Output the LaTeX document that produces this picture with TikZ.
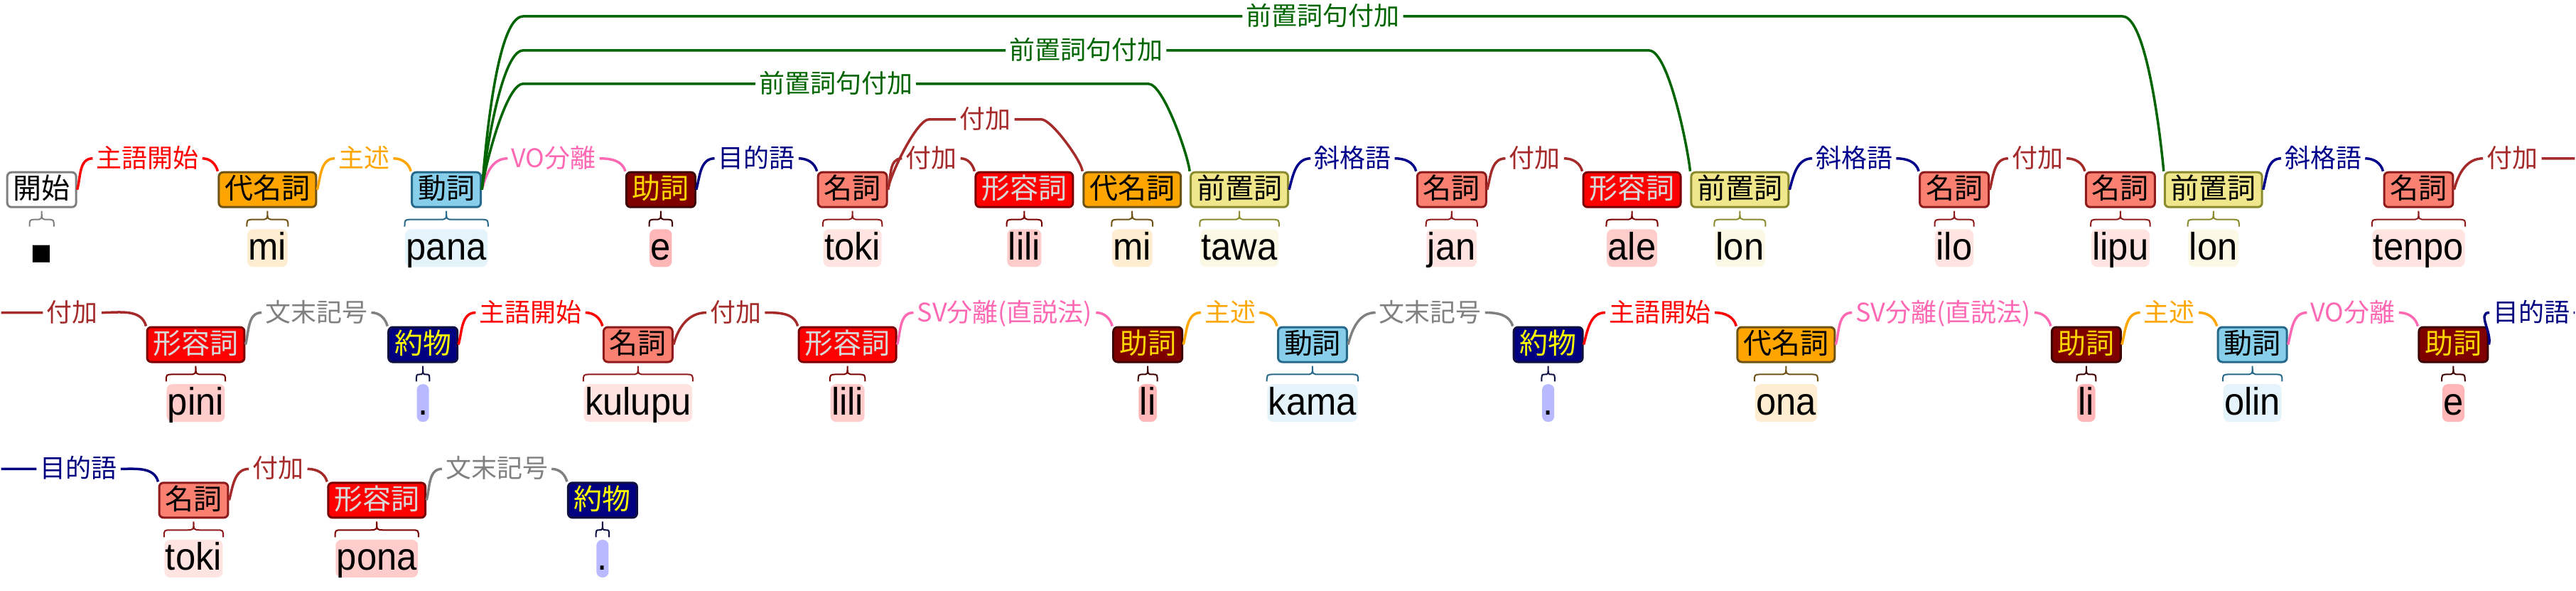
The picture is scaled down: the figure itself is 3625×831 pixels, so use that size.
\documentclass[tikz,border=0pt]{standalone}
\usepackage{fontspec}
\setmainfont{Liberation Sans}
\newfontfamily\jpfont{Noto Sans CJK JP}
\newfontfamily\wordfont{Liberation Sans}[FakeStretch=0.94]
\newfontfamily\symfont{DejaVu Sans}
\usetikzlibrary{calc}

\tikzset{
  posbox/.style={rounded corners=0.06cm,line width=0.03cm,inner xsep=0.085cm,inner ysep=0pt,
    minimum height=0.49cm,text height=0.32cm,text depth=0.06cm,
    font=\jpfont\fontsize{11.38}{12}\selectfont},
  word/.style={anchor=north,inner xsep=0.015cm,inner ysep=0pt,rounded corners=0.08cm,
    text height=0.43cm,text depth=0.10cm,font=\wordfont\fontsize{15.37}{16}\selectfont},
  lab/.style={inner xsep=0.045cm,inner ysep=0pt,text height=0.29cm,text depth=0.04cm,
    font=\jpfont\fontsize{10.24}{11}\selectfont},
  link/.style={line width=0.035cm},
}

\newcommand\wbrace[2]{%
  \draw[#2,line width=0.02cm] let \p1=(#1.north west), \p2=(#1.north east),
    \n1={min(2.85,(\x2-\x1)/4)}, \n2={(\x1+\x2)/2} in
    (\x1,\y1+0.85pt) .. controls (\x1,\y1+3.7pt) .. ({\x1+\n1+0pt},\y1+3.7pt)
    -- ({\n2-\n1+0pt},\y1+3.7pt) .. controls ({\n2+0pt},\y1+3.7pt) .. ({\n2+0pt},\y1+7.1pt)
    .. controls ({\n2+0pt},\y1+3.7pt) .. ({\n2+\n1+0pt},\y1+3.7pt)
    -- ({\x2-\n1+0pt},\y1+3.7pt) .. controls (\x2,\y1+3.7pt) .. (\x2,\y1+0.85pt);}

\begin{document}
\begin{tikzpicture}[x=0.01cm,y=-0.01cm]
  \definecolor{fstart}{HTML}{FFFFFF}\definecolor{lstart}{HTML}{7F7F7F}\definecolor{tstart}{HTML}{000000}
  \definecolor{fpron}{HTML}{FFA500}\definecolor{lpron}{HTML}{6E5216}\definecolor{tpron}{HTML}{000000}\definecolor{wpron}{HTML}{FEEDD0}
  \definecolor{fverb}{HTML}{87CEEB}\definecolor{lverb}{HTML}{27698A}\definecolor{tverb}{HTML}{000000}\definecolor{wverb}{HTML}{E5F3FA}
  \definecolor{fpart}{HTML}{800000}\definecolor{lpart}{HTML}{3D0000}\definecolor{tpart}{HTML}{FFD700}\definecolor{wpart}{HTML}{FFB6B6}
  \definecolor{fnoun}{HTML}{FA8072}\definecolor{lnoun}{HTML}{8E1B1B}\definecolor{tnoun}{HTML}{000000}\definecolor{wnoun}{HTML}{FFE4E1}
  \definecolor{fadj}{HTML}{FF0000}\definecolor{ladj}{HTML}{7A0000}\definecolor{tadj}{HTML}{D8D8D8}\definecolor{wadj}{HTML}{FFCCCC}
  \definecolor{fprep}{HTML}{F0E68C}\definecolor{lprep}{HTML}{8A8A2E}\definecolor{tprep}{HTML}{000000}\definecolor{wprep}{HTML}{FBF8E6}
  \definecolor{fpunct}{HTML}{000080}\definecolor{lpunct}{HTML}{101040}\definecolor{tpunct}{HTML}{FFFF00}\definecolor{wpunct}{HTML}{B9B9FF}
  \definecolor{subj}{HTML}{FF0000}
  \definecolor{pred}{HTML}{FFA500}
  \definecolor{split}{HTML}{FF69B4}
  \definecolor{obj}{HTML}{000080}
  \definecolor{adjunct}{HTML}{A52A2A}
  \definecolor{ppadj}{HTML}{006400}
  \definecolor{obl}{HTML}{00008B}
  \definecolor{endmark}{HTML}{808080}

  \node[posbox,fill=fstart,draw=lstart,text=tstart] (n1) at (57,267) {開始};
  \node[word,minimum width=0.32cm,font=\symfont\fontsize{9}{10}\selectfont] (wn1) at (57,322) {■};
  \wbrace{wn1}{lstart}
  \foreach \nm/\xx/\yy/\kind/\pos/\w in {
      n2/375/267/pron/代名詞/mi, n3/627/267/verb/動詞/pana, n4/929/267/part/助詞/e,
      n5/1199/267/noun/名詞/toki, n6/1441/267/adj/形容詞/lili, n7/1593/267/pron/代名詞/mi,
      n8/1744/267/prep/前置詞/tawa, n9/2043/267/noun/名詞/jan, n10/2297/267/adj/形容詞/ale,
      n11/2449/267/prep/前置詞/lon, n12/2751/267/noun/名詞/ilo, n13/2985/267/noun/名詞/lipu,
      n14/3116/267/prep/前置詞/lon, n15/3405/267/noun/名詞/tenpo,
      n16/274/485/adj/形容詞/pini, n17/594/485/punct/約物/., n18/897/485/noun/名詞/kulupu,
      n19/1192/485/adj/形容詞/lili, n20/1615/485/part/助詞/li, n21/1847/485/verb/動詞/kama,
      n22/2179/485/punct/約物/., n23/2514/485/pron/代名詞/ona, n24/2937/485/part/助詞/li,
      n25/3171/485/verb/動詞/olin, n26/3454/485/part/助詞/e,
      n27/271/704/noun/名詞/toki, n28/529/704/adj/形容詞/pona, n29/847/704/punct/約物/.}{
    \node[posbox,fill=f\kind,draw=l\kind,text=t\kind] (\nm) at (\xx,\yy) {\pos};
    \node[word,fill=w\kind] (w\nm) at (\xx,\yy+55) {\w};
    \wbrace{w\nm}{l\kind}
  }

  \foreach \src/\tgt/\txt/\col/\lev in {
      n1/n2/主語開始/subj/223, n2/n3/主述/pred/223, n3/n4/VO分離/split/223,
      n4/n5/目的語/obj/223, n5/n6/付加/adjunct/223, n8/n9/斜格語/obl/223,
      n9/n10/付加/adjunct/223, n11/n12/斜格語/obl/223, n12/n13/付加/adjunct/223,
      n14/n15/斜格語/obl/223,
      n16/n17/文末記号/endmark/440, n17/n18/主語開始/subj/440, n18/n19/付加/adjunct/440,
      n19/n20/SV分離(直説法)/split/440, n20/n21/主述/pred/440, n21/n22/文末記号/endmark/440,
      n22/n23/主語開始/subj/440, n23/n24/SV分離(直説法)/split/440, n24/n25/主述/pred/440,
      n25/n26/VO分離/split/440,
      n27/n28/付加/adjunct/660, n28/n29/文末記号/endmark/660}{
    \path let \p1=(\src.east), \p2=(\tgt.north west), \p3=(0,\lev) in
      node[lab,text=\col] (l\src\tgt) at ({(\x1+\x2)/2},\y3) {\txt};
    \draw[link,\col] (\src.east) to[out=75,in=180] (l\src\tgt.west)
      (l\src\tgt.east) to[out=0,in=105] (\tgt.north west);
  }

  \foreach \src/\tgt/\txt/\col/\lev in {
      n5/n7/付加/adjunct/168, n3/n8/前置詞句付加/ppadj/118,
      n3/n11/前置詞句付加/ppadj/71, n3/n14/前置詞句付加/ppadj/23}{
    \path let \p1=(\src.east), \p2=(\tgt.north west), \p3=(0,\lev) in
      node[lab,text=\col] (l\src\tgt) at ({(\x1+\x2)/2},\y3) {\txt};
    \draw[link,\col] let \p1=(\src.east), \p2=(\tgt.north west), \p3=(0,\lev) in
      (\src.east) to[out=85,in=180,looseness=0.4] (\x1+0.58cm,\y3) -- (l\src\tgt.west)
      (l\src\tgt.east) -- (\x2-0.58cm,\y3) to[out=0,in=95,looseness=0.4] (\tgt.north west);
  }

  \coordinate (r1out) at (3625,223);
  \coordinate (r2in) at (0,440);
  \coordinate (r2out) at (3625,440);
  \coordinate (r3in) at (0,660);
  \node[lab,text=adjunct] (ln15) at (3537,223) {付加};
  \node[lab,text=adjunct] (ln16) at (100,440) {付加};
  \node[lab,text=obj] (ln26) at (3564,440) {目的語};
  \node[lab,text=obj] (ln27) at (109,660) {目的語};
  \draw[link,adjunct] (n15.east) to[out=75,in=180] (ln15.west) (ln15.east) -- (r1out)
    (r2in) -- (ln16.west) (ln16.east) to[out=0,in=105] (n16.north west);
  \draw[link,obj] (n26.east) to[out=75,in=180] (ln26.west) (ln26.east) -- (r2out)
    (r3in) -- (ln27.west) (ln27.east) to[out=0,in=105] (n27.north west);

  \path[use as bounding box] (0,0) rectangle (3625,831);
\end{tikzpicture}
\end{document}
